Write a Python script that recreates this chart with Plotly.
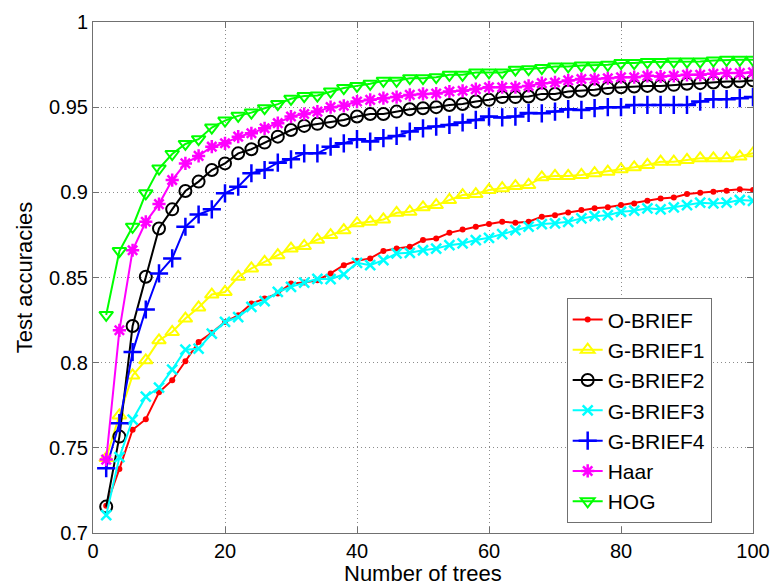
import plotly.graph_objects as go

# Number of trees in the forest (x axis)
trees = list(range(2, 101, 2))

# Test accuracy per descriptor
o_brief = [0.716, 0.7376, 0.7606, 0.7668, 0.7826, 0.7897, 0.8008, 0.8121, 0.8175, 0.8239,
           0.8278, 0.8347, 0.8376, 0.8406, 0.8465, 0.8470, 0.8484, 0.8524, 0.8572, 0.8598,
           0.8612, 0.8656, 0.8670, 0.8680, 0.8720, 0.8729, 0.8762, 0.8782, 0.8798, 0.8814,
           0.8827, 0.8822, 0.8827, 0.8857, 0.8866, 0.8882, 0.8896, 0.8906, 0.8912, 0.8925,
           0.8935, 0.8950, 0.8964, 0.8970, 0.8990, 0.8998, 0.9004, 0.9010, 0.9018, 0.9014]
g_brief1 = [0.744, 0.769, 0.7925, 0.8014, 0.8131, 0.8180, 0.8259, 0.8324, 0.8400, 0.8415,
            0.8504, 0.8553, 0.8592, 0.8631, 0.8670, 0.8685, 0.8722, 0.8749, 0.8778, 0.8818,
            0.8827, 0.8841, 0.8880, 0.8886, 0.8912, 0.8925, 0.8955, 0.8984, 0.8990, 0.9014,
            0.9024, 0.9037, 0.9043, 0.9088, 0.9096, 0.9096, 0.9102, 0.9112, 0.9121, 0.9135,
            0.9147, 0.9161, 0.9180, 0.9180, 0.9190, 0.9200, 0.9200, 0.9200, 0.9210, 0.9229]
g_brief2 = [0.7155, 0.7566, 0.8215, 0.8504, 0.8788, 0.8900, 0.9008, 0.9063, 0.9131, 0.9170,
            0.9229, 0.9253, 0.9292, 0.9327, 0.9366, 0.9390, 0.9402, 0.9415, 0.9425, 0.9445,
            0.9460, 0.9460, 0.9474, 0.9488, 0.9494, 0.9500, 0.9513, 0.9519, 0.9533, 0.9543,
            0.9559, 0.9559, 0.9563, 0.9578, 0.9578, 0.9592, 0.9596, 0.9602, 0.9612, 0.9617,
            0.9621, 0.9625, 0.9625, 0.9631, 0.9637, 0.9641, 0.9645, 0.9651, 0.9651, 0.9657]
g_brief3 = [0.7105, 0.7445, 0.7665, 0.7800, 0.7853, 0.7959, 0.8076, 0.8082, 0.8170, 0.8239,
            0.8268, 0.8327, 0.8362, 0.8415, 0.8445, 0.8470, 0.8492, 0.8490, 0.8519, 0.8586,
            0.8572, 0.8602, 0.8641, 0.8645, 0.8660, 0.8670, 0.8690, 0.8700, 0.8720, 0.8733,
            0.8755, 0.8778, 0.8798, 0.8814, 0.8818, 0.8827, 0.8847, 0.8860, 0.8866, 0.8886,
            0.8892, 0.8906, 0.8900, 0.8912, 0.8925, 0.8939, 0.8935, 0.8939, 0.8955, 0.8950]
g_brief4 = [0.7380, 0.7645, 0.8062, 0.8312, 0.8524, 0.8612, 0.8798, 0.8870, 0.8900, 0.8994,
            0.9033, 0.9112, 0.9131, 0.9174, 0.9194, 0.9229, 0.9229, 0.9268, 0.9288, 0.9312,
            0.9298, 0.9318, 0.9331, 0.9357, 0.9376, 0.9386, 0.9396, 0.9410, 0.9425, 0.9445,
            0.9440, 0.9445, 0.9466, 0.9464, 0.9474, 0.9488, 0.9484, 0.9494, 0.9500, 0.9500,
            0.9513, 0.9513, 0.9513, 0.9513, 0.9513, 0.9533, 0.9547, 0.9547, 0.9553, 0.9559]
haar = [0.7431, 0.8190, 0.8660, 0.8827, 0.8931, 0.9072, 0.9170, 0.9214, 0.9268, 0.9288,
        0.9327, 0.9347, 0.9376, 0.9406, 0.9445, 0.9460, 0.9474, 0.9500, 0.9508, 0.9533,
        0.9543, 0.9553, 0.9559, 0.9572, 0.9578, 0.9580, 0.9592, 0.9596, 0.9606, 0.9617,
        0.9617, 0.9617, 0.9625, 0.9641, 0.9645, 0.9657, 0.9665, 0.9665, 0.9670, 0.9676,
        0.9676, 0.9684, 0.9680, 0.9684, 0.9690, 0.9690, 0.9696, 0.9700, 0.9700, 0.9704]
hog = [0.8280, 0.8655, 0.8798, 0.8994, 0.9140, 0.9225, 0.9284, 0.9312, 0.9380, 0.9421,
       0.9449, 0.9468, 0.9494, 0.9518, 0.9549, 0.9565, 0.9568, 0.9592, 0.9612, 0.9625,
       0.9637, 0.9655, 0.9655, 0.9670, 0.9670, 0.9676, 0.9690, 0.9690, 0.9704, 0.9704,
       0.9704, 0.9720, 0.9723, 0.9730, 0.9739, 0.9739, 0.9745, 0.9745, 0.9749, 0.9759,
       0.9759, 0.9765, 0.9765, 0.9768, 0.9768, 0.9768, 0.9774, 0.9778, 0.9778, 0.9778]

series = [
    ("O-BRIEF", o_brief, "#ff0000", "circle", 6, 0),
    ("G-BRIEF1", g_brief1, "#ffff00", "triangle-up-open", 12, 2),
    ("G-BRIEF2", g_brief2, "#000000", "circle-open", 12, 2),
    ("G-BRIEF3", g_brief3, "#00ffff", "x-thin-open", 10, 2.5),
    ("G-BRIEF4", g_brief4, "#0000ff", "cross-thin-open", 13, 2.5),
    ("Haar", haar, "#ff00ff", "asterisk-open", 11, 2.5),
    ("HOG", hog, "#00ff00", "triangle-down-open", 12, 2),
]

fig = go.Figure()
for name, vals, color, symbol, size, mlw in series:
    fig.add_trace(go.Scatter(
        x=trees, y=vals, name=name, mode="lines+markers",
        line=dict(color=color, width=2),
        marker=dict(symbol=symbol, size=size, color=color,
                    line=dict(color=color, width=mlw)),
    ))

font = "Liberation Sans, Arial, Helvetica, sans-serif"
axis_common = dict(
    automargin=False,
    showline=True, linecolor="#707070", linewidth=1, mirror="ticks",
    ticks="inside", ticklen=6, tickcolor="#707070",
    showgrid=True, gridcolor="#8c8c8c", griddash="1px,3px", gridwidth=1,
    zeroline=False,
)

fig.update_layout(
    width=778, height=586,
    margin=dict(l=93, r=25, t=22, b=53),
    paper_bgcolor="white", plot_bgcolor="white",
    font=dict(family=font, color="black", size=20),
    xaxis=dict(range=[0, 100], tickvals=[0, 20, 40, 60, 80, 100],
               tickfont=dict(size=20),
               **axis_common),
    yaxis=dict(range=[0.7, 1.0], tickvals=[0.7, 0.75, 0.8, 0.85, 0.9, 0.95, 1.0],
               ticktext=["0.7", "0.75", "0.8", "0.85", "0.9", "0.95", "1"],
               tickfont=dict(size=20),
               title=dict(text="Test accuracies", font=dict(size=22), standoff=10),
               **axis_common),
    legend=dict(x=0.7177, y=0.4593, xanchor="left", yanchor="top",
                bgcolor="white", bordercolor="#707070", borderwidth=1,
                font=dict(size=21), itemwidth=30, tracegroupgap=0),
    showlegend=True,
    annotations=[dict(text="Number of trees", xref="paper", yref="paper",
                      x=0.5, y=-0.1076, xanchor="center", yanchor="bottom",
                      showarrow=False, font=dict(size=22))],
)

fig.write_html("out.html")
